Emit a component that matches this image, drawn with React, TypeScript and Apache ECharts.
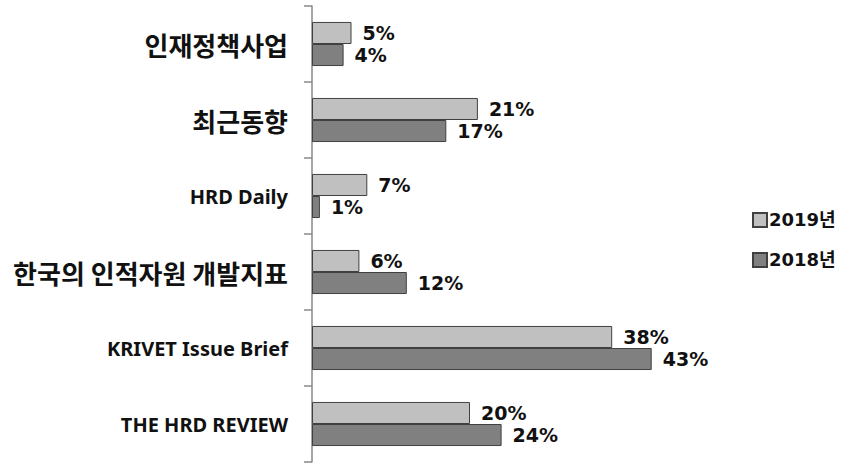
import React, { useEffect, useRef } from "react";
import * as echarts from "echarts";

const categories = [
  "인재정책사업",
  "최근동향",
  "HRD Daily",
  "한국의 인적자원 개발지표",
  "KRIVET Issue Brief",
  "THE HRD REVIEW",
];
const seriesNames = ["2019년", "2018년"];
const values2019 = [5, 21, 7, 6, 38, 20];
const values2018 = [4, 17, 1, 12, 43, 24];

export default function App() {
  const ref = useRef<HTMLDivElement>(null);
  useEffect(() => {
    if (!ref.current) return;
    const chart = echarts.init(ref.current, null, { renderer: "svg" });
    const labelCommon = {
      show: true,
      position: "right",
      distance: 11,
      formatter: "{c}%",
      fontFamily: "DejaVu Sans",
      fontWeight: "bold",
      fontSize: 19,
      color: "#111",
    };
    chart.setOption({
      animation: false,
      backgroundColor: "#fff",
      grid: { left: 312, top: 6, width: 474, bottom: 4 },
      legend: {
        orient: "vertical",
        left: 747,
        top: 206,
        itemWidth: 14,
        itemHeight: 14,
        itemGap: 22,
        icon: "rect",
        textStyle: {
          fontFamily: "DejaVu Sans, Noto Sans CJK KR",
          fontWeight: "bold",
          fontSize: 18,
          color: "#111",
          padding: [0, 0, 0, -3],
        },
        data: seriesNames,
      },
      xAxis: {
        type: "value",
        min: 0,
        max: 60,
        show: false,
        splitLine: { show: false },
      },
      yAxis: {
        type: "category",
        inverse: true,
        data: categories,
        axisLine: { show: true, lineStyle: { color: "#888", width: 1.5 } },
        axisTick: { show: true, length: 8, lineStyle: { color: "#888", width: 1.5 } },
        axisLabel: {
          margin: 24,
          formatter: (v: string) => (/[가-힣]/.test(v) ? `{k|${v}}` : `{l|${v}}`),
          rich: {
            k: {
              fontFamily: "Noto Sans CJK KR",
              fontWeight: "bold",
              fontSize: 26,
              color: "#111",
            },
            l: {
              fontFamily: "Noto Sans",
              fontWeight: "bold",
              fontSize: 20,
              color: "#111",
            },
          },
        },
      },
      series: [
        {
          name: seriesNames[0],
          type: "bar",
          data: values2019,
          barGap: "0%",
          barCategoryGap: "42%",
          itemStyle: { color: "#c0c0c0", borderColor: "#404040", borderWidth: 1 },
          label: labelCommon,
        },
        {
          name: seriesNames[1],
          type: "bar",
          data: values2018,
          barGap: "0%",
          barCategoryGap: "42%",
          itemStyle: { color: "#808080", borderColor: "#404040", borderWidth: 1 },
          label: labelCommon,
        },
      ],
    });
    return () => chart.dispose();
  }, []);
  return <div ref={ref} style={{ width: 846, height: 466, position: "absolute", left: 0, top: 0 }} />;
}
